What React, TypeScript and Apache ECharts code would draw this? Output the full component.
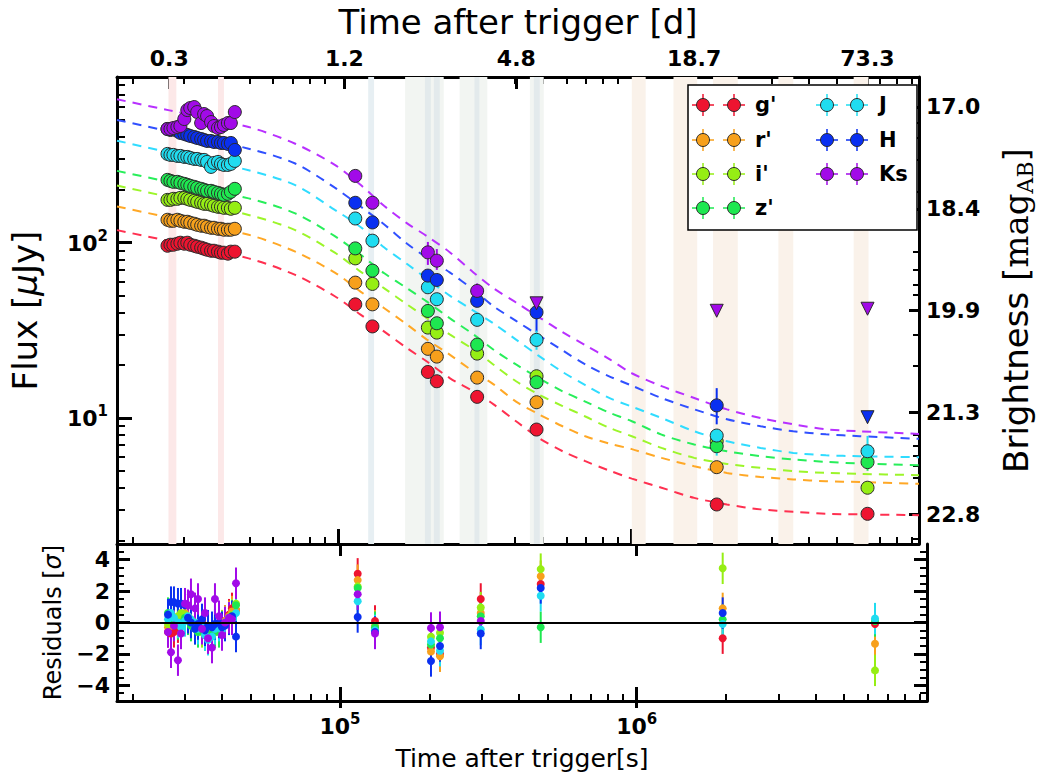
import React, { useEffect, useRef } from 'react';
import * as echarts from 'echarts';

const FONT = 'DejaVu Sans';

// ---------- bands ----------
const bands = ["g'", "r'", "i'", "z'", 'J', 'H', 'Ks'];
const bandColors = ['#ee1430', '#f7a01c', '#96ee14', '#1ee850', '#20dcf0', '#0a30f0', '#a20ae8'];
const lineColors = ['#ff3050', '#ffa826', '#9cf52a', '#28ee5a', '#30dcff', '#3050ff', '#b830ff'];

// ---------- axes ----------
const xMin = 17720;
const xMax = 9515000;
const yMin = 1.91;
const yMax = 882;
const magTop = 16.574;
const magBottom = 23.222;

const xMajorTicks = [1e5, 1e6];
const xMajorExps = ['5', '6'];
const xMinorTicks = [2e4, 3e4, 4e4, 5e4, 6e4, 7e4, 8e4, 9e4, 2e5, 3e5, 4e5, 5e5, 6e5, 7e5, 8e5, 9e5, 2e6, 3e6, 4e6, 5e6, 6e6, 7e6, 8e6, 9e6];
const topTickDays = [0.309, 1.219, 4.69, 18.9, 73.5];
const topTickLabels = ['0.3', '1.2', '4.8', '18.7', '73.3'];
const fluxMajorTicks = [10, 100];
const fluxMajorExps = ['1', '2'];
const fluxMinorTicks = [2, 3, 4, 5, 6, 7, 8, 9, 20, 30, 40, 50, 60, 70, 80, 90, 200, 300, 400, 500, 600, 700, 800];
const magTickValues = [17.0, 18.45, 19.9, 21.35, 22.8];
const magTickLabels = ['17.0', '18.4', '19.9', '21.3', '22.8'];
const magMinorTicks = [17.23, 17.44, 17.75, 18.21, 19.06, 19.32, 19.53, 19.67, 20.24, 20.69, 21.66, 21.83, 21.97, 22.11, 22.28, 23.15];
const resTickValues = [-4, -2, 0, 2, 4];
const resTickLabels = ['\u22124', '\u22122', '0', '2', '4'];
const resMinorTicks = [-4.5, -3.5, -3, -2.5, -1.5, -1, -0.5, 0.5, 1, 1.5, 2.5, 3, 3.5, 4.5];

// ---------- shaded observation windows (s) ----------
const pinkBands = [[26530, 28220], [39110, 40970]];
const blueBands = [[126900, 132900]];
const grayBands = [[169500, 229400], [259800, 322900], [450800, 502400]];
const innerBands = [[198000, 207400], [212300, 222400], [291900, 303400], [464900, 487100]];
const tanBands = [[1002000, 1117000], [1389000, 1673000], [1894000, 2299000], [3161000, 3552000], [5702000, 6405000]];

// ---------- early photometry (s, uJy) ----------
const earlyTimes = [26320, 26940, 27570, 28440, 29120, 30030, 30740, 31460, 32460, 33220, 34270, 35080, 35900, 37030, 37900, 39100, 40020, 40960, 42260, 43250, 44620];
const earlyG = [96.1, 97.4, 97.4, 98.7, 100, 98.7, 100, 97.4, 96.1, 94.9, 93.7, 92.4, 91.2, 90.0, 90.0, 88.9, 87.7, 87.7, 86.6, 88.9, 88.9];
const earlyR = [135.2, 133.4, 133.4, 135.2, 133.4, 131.7, 131.7, 129.9, 128.3, 126.6, 125.0, 125.0, 123.3, 121.7, 121.7, 120.1, 120.1, 118.6, 118.6, 118.6, 120.1];
const earlyI = [175.6, 175.6, 178.0, 178.0, 180.3, 180.3, 178.0, 175.6, 173.4, 171.1, 168.9, 166.7, 166.7, 164.5, 162.4, 160.3, 160.3, 158.2, 158.2, 156.2, 158.2];
const earlyZ = [228.4, 225.4, 222.5, 222.5, 219.6, 216.7, 213.9, 211.1, 208.4, 205.6, 203.0, 200.3, 197.7, 197.7, 195.1, 192.6, 190.0, 187.6, 190.0, 195.1, 203.0];
const earlyJ = [321.1, 317.0, 317.0, 312.8, 312.8, 308.7, 308.7, 304.7, 300.7, 300.7, 296.8, 296.8, 289.1, 270.7, 285.4, 289.1, 281.6, 277.9, 277.9, 281.6, 292.9];
const earlyH = [445.6, 439.8, 445.6, 434.1, 422.9, 417.4, 412.0, 406.4, 401.2, 395.9, 390.8, 385.7, 380.7, 380.7, 375.7, 375.7, 370.9, 370.9, 366.1, 370.9, 338.4];
const earlyKs = [445.6, 445.6, 451.4, 457.3, 463.4, 507.7, 571.4, 586.6, 594.4, 556.6, 481.9, 542.2, 528.2, 488.2, 463.4, 451.4, 457.3, 469.5, 481.9, 481.9, 556.6];

// ---------- later epochs ----------
const epochTimes = [114700, 131200, 202600, 217300, 298100, 474800, 1949000, 6356000];
const lateG = [44.5, 33.3, 18.3, 16.2, 13.2, 8.59, 3.21, 2.84];
const lateR = [59.2, 44.5, 24.8, 22.4, 17.0, 12.3, 5.24, null];
const lateI = [81.4, 58.2, 32.8, 30.7, 23.3, 17.3, 7.37, 4.0];
const lateZ = [92.8, 69.3, 40.8, 34.7, 26.2, 16.0, 6.9, 5.6];
const lateJ = [137.5, 102.7, 55.7, 47.6, 36.3, 27.9, 7.94, 6.46];
const lateH = [169, 130.5, 64.9, 61.3, 46.6, 40.1, 11.8, null];
const lateKs = [240.6, 169, 88.1, 79.0, 53.1, null, null, null];
const ulH = [null, null, null, null, null, null, null, 10.1];
const ulKs = [null, null, null, null, null, 45.1, 40.9, 42.0];

// visible error bars: band index, epoch index, low, high
const errBand = [6, 6, 6, 5, 4, 5, 4, 4, 3];
const errEpoch = [2, 3, 4, 5, 5, 6, 6, 7, 7];
const errLo = [74.7, 70, 48.2, 31, 24.5, 9.2, 6.1, 5.2, 5.0];
const errHi = [101, 92, 58.6, 46, 31.5, 14.8, 8.6, 7.9, 6.2];

// ---------- model curves ----------
const modelTimes = [17720, 26730, 49730, 71640, 97700, 119500, 144000, 172200, 201100, 240400, 289500, 338200, 404400, 483400, 582300, 696000, 832000, 1002000, 1265000, 1634000, 2112000, 2749000, 3552000, 4588000, 5975000, 9515000];
const modelG = [118, 102, 81.4, 65.5, 49.5, 38.9, 31.1, 25.0, 21.0, 16.9, 14.2, 12.0, 9.58, 7.69, 6.46, 5.67, 5.04, 4.51, 4.0, 3.5, 3.21, 3.01, 2.92, 2.84, 2.82, 2.79];
const modelR = [161, 139, 111, 88.9, 67.5, 52.6, 42.3, 34.1, 28.0, 23.0, 18.4, 15.6, 12.4, 10.5, 8.97, 7.87, 7.18, 6.64, 5.92, 5.31, 4.86, 4.61, 4.46, 4.36, 4.31, 4.21];
const modelI = [212, 182, 144, 118, 87.7, 68.4, 54.9, 44.4, 37.1, 30.0, 24.6, 20.2, 16.2, 13.6, 11.7, 10.2, 8.85, 7.87, 6.75, 5.92, 5.47, 5.19, 4.97, 4.86, 4.8, 4.72];
const modelZ = [257, 222, 179, 147, 109, 85.5, 66.9, 54.9, 46.1, 37.1, 30.0, 24.6, 20.2, 16.9, 14.2, 12.4, 10.8, 9.58, 8.04, 7.06, 6.46, 6.05, 5.8, 5.62, 5.5, 5.38];
const modelJ = [382, 327, 259, 213, 154, 123, 93.9, 75.6, 62.2, 49.9, 41.0, 34.7, 28.0, 22.6, 18.3, 15.4, 13.1, 11.6, 10.0, 8.4, 7.37, 6.75, 6.32, 6.13, 6.05, 5.97];
const modelH = [502, 432, 344, 283, 206, 161, 127, 98.7, 82.1, 67.7, 53.9, 43.5, 35.8, 29.6, 24.3, 20.2, 17.4, 15.3, 13.0, 11.2, 9.83, 8.97, 8.4, 8.07, 7.87, 7.61];
const modelKs = [658, 569, 457, 367, 278, 214, 162, 129, 109, 88.3, 67.7, 55.1, 45.6, 37.6, 30.9, 26.0, 21.9, 18.0, 15.2, 13.0, 11.2, 10.0, 9.21, 8.62, 8.4, 8.11];

// ---------- residuals (sigma) ----------
const resEarlyG = [-0.6, -0.7, -0.6, -0.3, 0.0, 0.2, 0.3, 0.1, -0.1, -0.2, 0.0, -0.3, -0.5, -0.8, -0.6, -0.4, -0.3, 0.1, 0.5, 0.9, 0.8];
const resEarlyR = [-0.3, -0.2, 0.1, 0.3, 0.5, 0.6, 0.4, 0.2, 0.0, -0.2, -0.3, -0.5, -0.6, -0.7, -0.5, -0.4, -0.2, 0.1, 0.4, 0.7, 0.8];
const resEarlyI = [-0.1, 0.0, 0.2, 0.4, 0.6, 0.5, 0.3, 0.0, -0.2, -0.4, -0.6, -0.5, -0.7, -0.8, -0.6, -0.4, -0.2, 0.0, 0.3, 0.5, 1.2];
const resEarlyZ = [0.6, 0.4, 0.1, -0.1, 0.0, 0.3, 0.2, -0.2, -0.4, -0.6, -0.3, -0.8, -1.0, -0.7, -0.5, -0.6, -0.3, -0.1, 0.2, 0.4, 1.1];
const resEarlyJ = [0.2, 0.6, 0.3, 0.0, -0.3, 0.1, 0.4, 0.2, 0.0, -0.4, -0.1, -0.8, -1.1, -0.9, -0.4, -0.2, -0.5, 0.0, 0.3, 0.2, 0.6];
const resEarlyH = [0.5, 1.3, 1.3, 1.2, 1.2, 1.1, 0.3, 0.0, -0.4, -0.1, 0.2, -0.5, -0.2, -0.3, -0.1, 0.0, -0.3, -0.2, 0.2, 0.4, -0.9];
const resEarlyKs = [-0.6, -1.9, -0.2, -2.4, -0.7, 1.2, 1.1, 1.8, 0.9, 1.5, -0.4, 0.6, -1.0, -1.6, 1.5, 0.4, -0.8, 0.0, 0.3, 0.2, 2.5];
const resLateG = [3.1, 0.1, -1.6, -2.0, 1.5, 2.45, -1.0, -0.1];
const resLateR = [2.7, -0.2, -1.85, -2.15, 0.6, 2.95, 0.9, -1.35];
const resLateI = [2.3, -0.4, -0.9, -0.65, 0.95, 3.4, 3.45, -3.05];
const resLateZ = [2.2, -0.3, -1.4, -1.0, 0.4, -0.3, 0.2, 0.1];
const resLateJ = [1.35, -0.5, -1.2, -1.8, -0.45, 1.7, -0.1, 0.25];
const resLateH = [0.35, -0.6, -2.45, -1.5, -0.7, 2.2, 0.6, null];
const resLateKs = [1.8, -0.7, -0.35, -0.3, 0.1, null, null, null];

const earlyFlux = [earlyG, earlyR, earlyI, earlyZ, earlyJ, earlyH, earlyKs];
const lateFlux = [lateG, lateR, lateI, lateZ, lateJ, lateH, lateKs];
const models = [modelG, modelR, modelI, modelZ, modelJ, modelH, modelKs];
const resEarly = [resEarlyG, resEarlyR, resEarlyI, resEarlyZ, resEarlyJ, resEarlyH, resEarlyKs];
const resLate = [resLateG, resLateR, resLateI, resLateZ, resLateJ, resLateH, resLateKs];

function findIdx(list: number[], v: number) {
  return list.findIndex((t) => Math.abs(t - v) <= Math.abs(t) * 1e-4 + 1e-9);
}

const supRich = {
  b: { fontSize: 22, fontWeight: 'bold', fontFamily: FONT, color: '#000', lineHeight: 24, verticalAlign: 'bottom' },
  s: { fontSize: 15, fontWeight: 'bold', fontFamily: FONT, color: '#000', lineHeight: 16, verticalAlign: 'bottom', padding: [0, 0, 11, 0] },
};

function errorRender(params: any, api: any) {
  const t = api.value(0);
  const p1 = api.coord([t, api.value(1)]);
  const p2 = api.coord([t, api.value(2)]);
  return {
    type: 'line',
    shape: { x1: p1[0], y1: p1[1], x2: p2[0], y2: p2[1] },
    style: { stroke: bandColors[api.value(3)], lineWidth: 2 },
  };
}

function buildOption() {
  const lineStyle = { color: '#000', width: 3 };
  const tickLabel = { fontSize: 22, fontWeight: 'bold', fontFamily: FONT, color: '#000' };
  const off = { show: false };
  const majorTick = (vals: number[], len: number, inside = true) => ({ show: true, inside, length: len, lineStyle: { color: '#000', width: 3 }, customValues: vals });
  const minorTick = (vals: number[], len: number) => ({ show: true, inside: true, length: len, lineStyle: { color: '#000', width: 2 }, customValues: vals });

  const baseX = { type: 'log', logBase: 10, min: xMin, max: xMax, splitLine: off, axisLabel: off, axisTick: off, axisLine: { show: false, onZero: false } };
  const topTickSeconds = topTickDays.map((d) => d * 86400);

  const xAxis: any[] = [
    { ...baseX, gridIndex: 0, position: 'bottom', axisLine: { show: true, onZero: false, lineStyle }, axisTick: majorTick(xMajorTicks, 15) },
    { ...baseX, gridIndex: 0, position: 'bottom', axisTick: minorTick(xMinorTicks, 7) },
    { ...baseX, gridIndex: 0, position: 'top', axisLine: { show: true, onZero: false, lineStyle }, axisTick: minorTick(xMinorTicks, 7) },
    {
      ...baseX, gridIndex: 0, position: 'top', axisTick: majorTick(topTickSeconds, 12),
      axisLabel: { show: true, margin: 8, ...tickLabel, customValues: topTickSeconds, formatter: (v: number) => topTickLabels[findIdx(topTickSeconds, v)] ?? '' },
      name: 'Time after trigger [d]', nameLocation: 'middle', nameGap: 38,
      nameTextStyle: { fontSize: 34, fontFamily: FONT, color: '#000' },
    },
    {
      ...baseX, gridIndex: 1, position: 'bottom', axisLine: { show: true, onZero: false, lineStyle }, axisTick: majorTick(xMajorTicks, 14),
      axisLabel: { show: true, margin: 12, customValues: xMajorTicks, formatter: (v: number) => `{b|10}{s|${xMajorExps[findIdx(xMajorTicks, v)]}}`, rich: supRich },
      name: 'Time after trigger[s]', nameLocation: 'middle', nameGap: 45,
      nameTextStyle: { fontSize: 25, fontFamily: FONT, color: '#000' },
    },
    { ...baseX, gridIndex: 1, position: 'bottom', axisTick: majorTick(xMajorTicks, 7, false) },
    { ...baseX, gridIndex: 1, position: 'bottom', axisTick: minorTick(xMinorTicks, 7) },
    { ...baseX, gridIndex: 1, position: 'top', axisTick: majorTick(xMajorTicks, 12) },
  ];

  const baseYLog = { type: 'log', logBase: 10, min: yMin, max: yMax, splitLine: off, axisLabel: off, axisTick: off, axisLine: { show: false, onZero: false } };
  const baseMag = { type: 'value', inverse: true, min: magTop, max: magBottom, splitLine: off, axisLabel: off, axisTick: off, axisLine: { show: false, onZero: false } };
  const baseRes = { type: 'value', min: -5, max: 5, splitLine: off, axisLabel: off, axisTick: off, axisLine: { show: false, onZero: false } };

  const yAxis: any[] = [
    {
      ...baseYLog, gridIndex: 0, position: 'left', axisLine: { show: true, onZero: false, lineStyle }, axisTick: majorTick(fluxMajorTicks, 15),
      axisLabel: { show: true, margin: 9, customValues: fluxMajorTicks, formatter: (v: number) => `{b|10}{s|${fluxMajorExps[findIdx(fluxMajorTicks, v)]}}`, rich: supRich },
      name: 'Flux [{it|\u03bc}Jy]', nameLocation: 'middle', nameGap: 75,
      nameTextStyle: { fontSize: 34, fontFamily: FONT, color: '#000', rich: { it: { fontSize: 34, fontFamily: FONT, fontStyle: 'italic', color: '#000' } } },
    },
    { ...baseYLog, gridIndex: 0, position: 'left', axisTick: minorTick(fluxMinorTicks, 8) },
    {
      ...baseMag, gridIndex: 0, position: 'right', axisLine: { show: true, onZero: false, lineStyle }, axisTick: majorTick(magTickValues, 10),
      axisLabel: { show: true, margin: 7, ...tickLabel, customValues: magTickValues, formatter: (v: number) => magTickLabels[findIdx(magTickValues, v)] ?? '' },
      name: 'Brightness [{m|mag}{ab|AB}]', nameLocation: 'middle', nameGap: 77,
      nameTextStyle: {
        fontSize: 34, fontFamily: FONT, color: '#000', lineHeight: 40,
        rich: {
          m: { fontSize: 34, fontFamily: 'DejaVu Serif', color: '#000', lineHeight: 40 },
          ab: { fontSize: 22, fontFamily: 'DejaVu Serif', color: '#000', lineHeight: 22, verticalAlign: 'bottom' },
        },
      },
    },
    { ...baseMag, gridIndex: 0, position: 'right', axisTick: minorTick(magMinorTicks, 6) },
    {
      ...baseRes, gridIndex: 1, position: 'left', axisLine: { show: true, onZero: false, lineStyle }, axisTick: majorTick(resTickValues, 13),
      axisLabel: { show: true, margin: 7, ...tickLabel, customValues: resTickValues, formatter: (v: number) => resTickLabels[findIdx(resTickValues, v)] ?? '' },
      name: 'Residuals [{it|\u03c3}]', nameLocation: 'middle', nameGap: 52,
      nameTextStyle: { fontSize: 24, fontFamily: FONT, color: '#000', rich: { it: { fontSize: 24, fontFamily: FONT, fontStyle: 'italic', color: '#000' } } },
    },
    { ...baseRes, gridIndex: 1, position: 'left', axisTick: minorTick(resMinorTicks, 7) },
    { ...baseRes, gridIndex: 1, position: 'right', axisLine: { show: true, onZero: false, lineStyle }, axisTick: majorTick(resTickValues, 13) },
    { ...baseRes, gridIndex: 1, position: 'right', axisTick: minorTick(resMinorTicks, 7) },
  ];

  const area = (list: number[][], color: string) => list.map(([a, b]) => [{ xAxis: a, itemStyle: { color, opacity: 1 } }, { xAxis: b }]);

  const series: any[] = [];
  series.push({
    type: 'line', xAxisIndex: 0, yAxisIndex: 0, data: [], z: 0, silent: true,
    markArea: { silent: true, label: { show: false }, data: [...area(pinkBands, '#fce8e8'), ...area(blueBands, '#e7eff3'), ...area(grayBands, '#f2f5f2'), ...area(tanBands, '#faf2ea')] },
  });
  series.push({
    type: 'line', xAxisIndex: 0, yAxisIndex: 0, data: [], z: 0, silent: true,
    markArea: { silent: true, label: { show: false }, data: area(innerBands, '#e3eaec') },
  });

  bands.forEach((b, i) => {
    series.push({
      type: 'line', name: b + ' model', xAxisIndex: 0, yAxisIndex: 0, showSymbol: false, smooth: 0.3, z: 2, silent: true,
      data: modelTimes.map((t, k) => [t, models[i][k]]),
      lineStyle: { color: lineColors[i], width: 2, type: [9, 7] },
    });
  });

  const errData = errBand.map((bi, k) => [epochTimes[errEpoch[k]], errLo[k], errHi[k], bi]);
  series.push({ type: 'custom', xAxisIndex: 0, yAxisIndex: 0, z: 3, silent: true, renderItem: errorRender, data: errData, encode: { x: 0, y: [1, 2] } });

  bands.forEach((b, i) => {
    const pts: number[][] = earlyTimes.map((t, k) => [t, earlyFlux[i][k]]);
    epochTimes.forEach((t, k) => { const v = lateFlux[i][k]; if (v != null) pts.push([t, v]); });
    series.push({
      type: 'scatter', name: b, xAxisIndex: 0, yAxisIndex: 0, z: 4, symbol: 'circle', symbolSize: 13, data: pts,
      itemStyle: { color: bandColors[i], borderColor: '#2a2a2a', borderWidth: 1, opacity: 1 },
    });
  });
  [[ulH, 5], [ulKs, 6]].forEach(([arr, bi]: any) => {
    const pts: number[][] = [];
    epochTimes.forEach((t, k) => { if (arr[k] != null) pts.push([t, arr[k]]); });
    series.push({
      type: 'scatter', name: bands[bi] + ' limit', xAxisIndex: 0, yAxisIndex: 0, z: 4, symbol: 'triangle', symbolRotate: 180, symbolSize: 13, data: pts,
      itemStyle: { color: bandColors[bi], borderColor: '#2a2a2a', borderWidth: 1, opacity: 1 },
    });
  });

  // residuals
  const resErr: any[] = [];
  const resPts: number[][][] = bands.map(() => []);
  bands.forEach((b, i) => {
    earlyTimes.forEach((t, k) => { const r = resEarly[i][k]; resPts[i].push([t, r]); resErr.push([t, r - 1, r + 1, i]); });
    epochTimes.forEach((t, k) => { const r = resLate[i][k]; if (r != null) { resPts[i].push([t, r]); resErr.push([t, r - 1, r + 1, i]); } });
  });
  series.push({ type: 'custom', xAxisIndex: 4, yAxisIndex: 4, z: 3, silent: true, renderItem: errorRender, data: resErr, encode: { x: 0, y: [1, 2] } });
  bands.forEach((b, i) => {
    series.push({
      type: 'scatter', name: b + ' residual', xAxisIndex: 4, yAxisIndex: 4, z: 4, symbolSize: 8, data: resPts[i],
      itemStyle: { color: bandColors[i], opacity: 1 },
      markLine: i === 0 ? { silent: true, symbol: ['none', 'none'], label: { show: false }, lineStyle: { color: '#000', width: 2, type: 'solid' }, data: [{ yAxis: 0 }] } : undefined,
    });
  });

  // legend as graphic
  const legendRows = [105, 140, 174, 208];
  const legendCols = [{ m1: 703, m2: 734, tx: 755 }, { m1: 827, m2: 857, tx: 879 }];
  const graphic: any[] = [
    { type: 'rect', z: 100, shape: { x: 688, y: 85, width: 229, height: 145 }, style: { fill: '#fff', stroke: '#000', lineWidth: 1.5 } },
  ];
  bands.forEach((b, i) => {
    const col = legendCols[i < 4 ? 0 : 1];
    const ry = legendRows[i < 4 ? i : i - 4];
    [col.m1, col.m2].forEach((m) => {
      graphic.push({ type: 'line', z: 101, shape: { x1: m - 11, y1: ry, x2: m + 11, y2: ry }, style: { stroke: bandColors[i], lineWidth: 1.5 } });
      graphic.push({ type: 'line', z: 101, shape: { x1: m, y1: ry - 11, x2: m, y2: ry + 11 }, style: { stroke: bandColors[i], lineWidth: 1.5 } });
      graphic.push({ type: 'circle', z: 102, shape: { cx: m, cy: ry, r: 6.5 }, style: { fill: bandColors[i], stroke: '#2a2a2a', lineWidth: 1 } });
    });
    graphic.push({
      type: 'text', z: 102, x: col.tx, y: ry,
      style: { text: b, fill: '#000', fontSize: 21, fontWeight: 'bold', fontFamily: FONT, verticalAlign: 'middle', textVerticalAlign: 'middle' },
    });
  });

  return {
    animation: false,
    backgroundColor: '#fff',
    grid: [
      { left: 117, top: 75, width: 810, height: 469, containLabel: false },
      { left: 117, top: 544, width: 810, height: 157, containLabel: false },
    ],
    xAxis,
    yAxis,
    series,
    graphic,
  };
}

export default function App() {
  const ref = useRef<HTMLDivElement>(null);
  useEffect(() => {
    const chart = echarts.init(ref.current!, null, { renderer: 'svg' });
    chart.setOption(buildOption() as any);
    return () => chart.dispose();
  }, []);
  return <div ref={ref} style={{ position: 'fixed', left: 0, top: 0, width: 1044, height: 778, background: '#fff' }} />;
}
